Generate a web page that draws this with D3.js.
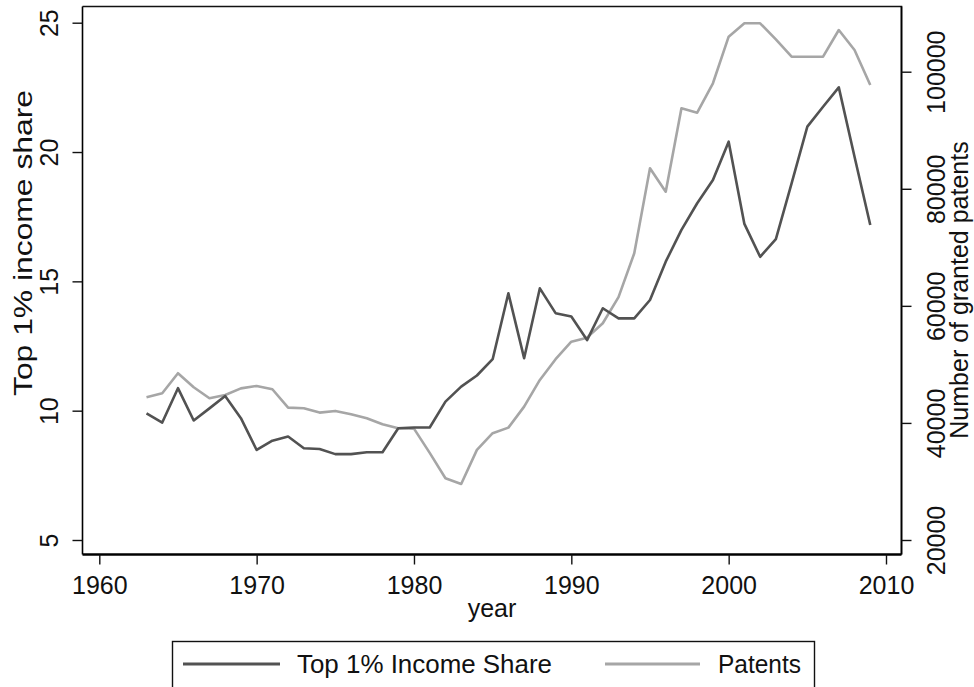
<!DOCTYPE html>
<html>
<head>
<meta charset="utf-8">
<script src="https://cdn.jsdelivr.net/npm/d3@7"></script>
<style>
  html, body { margin: 0; padding: 0; background: #fff; }
  svg { display: block; }
  text { font-family: "Liberation Sans", Arial, sans-serif; fill: #111; }
</style>
</head>
<body>
<svg id="chart" width="974" height="687"></svg>
<script>
// ---- data ----
const years = [1963,1964,1965,1966,1967,1968,1969,1970,1971,1972,1973,1974,1975,1976,1977,1978,1979,1980,
  1981,1982,1983,1984,1985,1986,1987,1988,1989,1990,1991,1992,1993,1994,1995,1996,1997,1998,1999,2000,
  2001,2002,2003,2004,2005,2006,2007,2008,2009];
const incomeShare = [9.90,9.54,10.87,9.62,10.09,10.57,9.71,8.48,8.84,9.00,8.55,8.52,8.32,8.32,8.39,8.39,9.32,9.35,
  9.35,10.35,10.93,11.36,11.99,14.54,12.03,14.73,13.77,13.64,12.73,13.96,13.57,13.57,14.28,15.76,16.99,18.02,18.92,20.40,
  17.22,15.95,16.63,18.79,20.98,21.75,22.50,19.82,17.18];
const patents = [44400,45070,48490,46100,44220,44780,45900,46320,45750,42610,42510,41760,42050,41480,40800,39780,39090,39030,
  34880,30550,29580,35390,38240,39200,42780,47340,50880,53880,54570,57030,61500,68980,83500,79500,93750,93000,98020,105980,
  108270,108270,105530,102560,102560,102560,107120,103700,97730];
const xTicks = [1960,1970,1980,1990,2000,2010];
const leftTicks = [5,10,15,20,25];
const rightTicks = [20000,40000,60000,80000,100000];
const seriesNames = ["Top 1% Income Share","Patents"];
const seriesColors = ["#525252","#a6a6a6"];

// ---- layout ----
const svg = d3.select("#chart");
const frame = {left: 82.5, right: 901.5, top: 6.5, bottom: 554.5};
const x = d3.scaleLinear().domain([1960, 2010]).range([99.3, 886]);
const yL = d3.scaleLinear().domain([5, 25]).range([540, 22.7]);
const yR = d3.scaleLinear().domain([20000, 100000]).range([540, 71.7]);
const FS = 25;

// frame (top and right sides)
svg.append("path")
  .attr("d", `M${frame.left},${frame.top}H${frame.right}V${frame.bottom}`)
  .attr("fill", "none").attr("stroke", "#111").attr("stroke-width", 1.6);

// bottom axis
const gx = svg.append("g").attr("transform", `translate(0,${frame.bottom})`)
  .call(d3.axisBottom(x).tickValues(xTicks).tickFormat(d3.format("d")).tickSize(10).tickSizeOuter(0));
gx.select(".domain").attr("d", `M${frame.left},0H${frame.right}`).attr("stroke-width", 2.4);
gx.selectAll(".tick line").attr("stroke", "#111").attr("stroke-width", 1.4);
gx.selectAll(".tick text").attr("y", 39.5).attr("dy", 0)
  .style("font-size", FS + "px").attr("fill", "#111");

// left axis
const gl = svg.append("g").attr("transform", `translate(${frame.left},0)`)
  .call(d3.axisLeft(yL).tickValues(leftTicks).tickSize(10).tickSizeOuter(0));
gl.select(".domain").attr("d", `M0,${frame.top}V${frame.bottom}`).attr("stroke-width", 1.6);
gl.selectAll(".tick line").attr("stroke", "#111").attr("stroke-width", 1.4);
gl.selectAll(".tick text").attr("transform", "rotate(-90)")
  .attr("x", 0).attr("y", -24.5).attr("dy", 0).attr("text-anchor", "middle")
  .style("font-size", FS + "px").attr("fill", "#111");

// right axis
const gr = svg.append("g").attr("transform", `translate(${frame.right},0)`)
  .call(d3.axisRight(yR).tickValues(rightTicks).tickFormat(d3.format("d")).tickSize(10).tickSizeOuter(0));
gr.select(".domain").attr("d", `M0,${frame.top}V${frame.bottom}`).attr("stroke-width", 1.6);
gr.selectAll(".tick line").attr("stroke", "#111").attr("stroke-width", 1.4);
gr.selectAll(".tick text").attr("transform", "rotate(-90)")
  .attr("x", 0).attr("y", 43.5).attr("dy", 0).attr("text-anchor", "middle")
  .style("font-size", FS + "px").attr("fill", "#111");

// axis titles
svg.append("text").attr("transform", `translate(32,243) rotate(-90)`)
  .attr("text-anchor", "middle").style("font-size", FS + "px")
  .attr("textLength", 306).attr("lengthAdjust", "spacingAndGlyphs")
  .text("Top 1% income share");
svg.append("text").attr("transform", `translate(968,290) rotate(-90)`)
  .attr("text-anchor", "middle").style("font-size", FS + "px").text("Number of granted patents");
svg.append("text").attr("x", (frame.left + frame.right) / 2).attr("y", 617)
  .attr("text-anchor", "middle").style("font-size", FS + "px").text("year");

// lines
const incomeLine = d3.line().x((d, i) => x(years[i])).y(d => yL(d));
const patentLine = d3.line().x((d, i) => x(years[i])).y(d => yR(d));
svg.append("path").datum(patents).attr("d", patentLine)
  .attr("fill", "none").attr("stroke", seriesColors[1]).attr("stroke-width", 2.6).attr("stroke-linejoin", "round");
svg.append("path").datum(incomeShare).attr("d", incomeLine)
  .attr("fill", "none").attr("stroke", seriesColors[0]).attr("stroke-width", 2.6).attr("stroke-linejoin", "round");

// legend
const lg = svg.append("g");
lg.append("rect").attr("x", 172.5).attr("y", 641.5).attr("width", 642).attr("height", 50)
  .attr("fill", "#fff").attr("stroke", "#111").attr("stroke-width", 1.4);
const legendItems = [
  {x1: 183, x2: 280, tx: 297, len: 255},
  {x1: 605, x2: 700, tx: 718, len: 83}
];
legendItems.forEach((it, i) => {
  lg.append("line").attr("x1", it.x1).attr("x2", it.x2).attr("y1", 664).attr("y2", 664)
    .attr("stroke", seriesColors[i]).attr("stroke-width", 3);
  lg.append("text").attr("x", it.tx).attr("y", 673).style("font-size", FS + "px")
    .attr("textLength", it.len).attr("lengthAdjust", "spacingAndGlyphs")
    .text(seriesNames[i]);
});
</script>
</body>
</html>
